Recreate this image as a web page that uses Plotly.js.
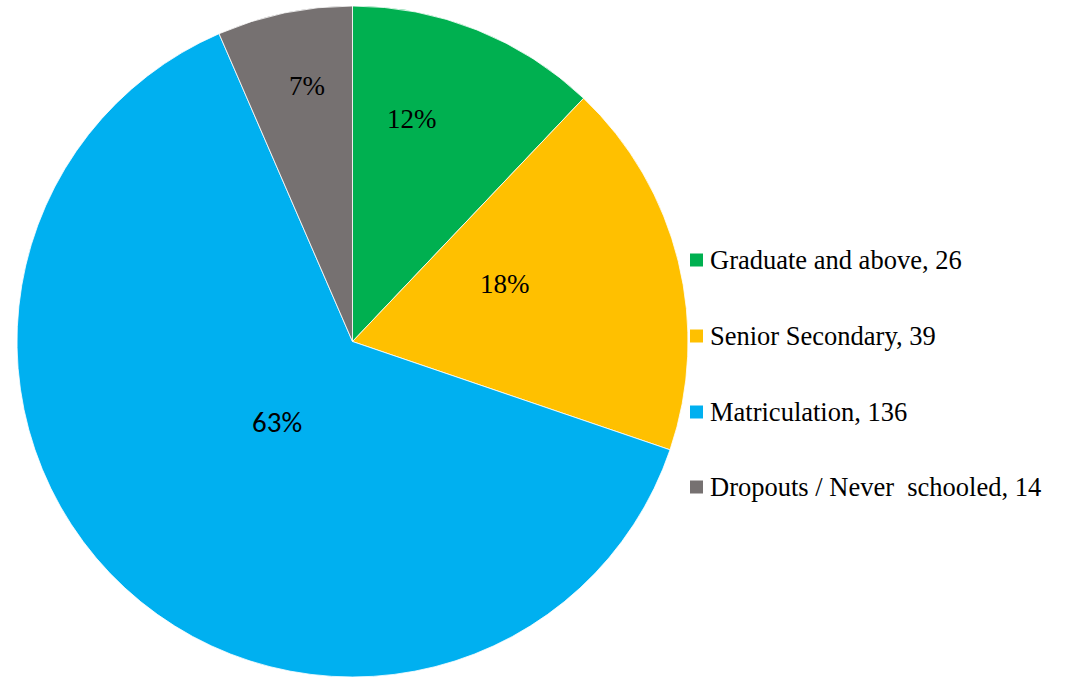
<!DOCTYPE html>
<html>
<head>
<meta charset="utf-8">
<script src="https://cdn.plot.ly/plotly-3.0.1.min.js"></script>
<style>html,body{margin:0;padding:0;background:#fff;}#chart{width:1073px;height:678px;}</style>
</head>
<body>
<div id="chart"></div>
<script>
const categories = ["Graduate and above", "Senior Secondary", "Matriculation", "Dropouts / Never  schooled"];
const values = [26, 39, 136, 14];
const colors = ["#00B050", "#FFC000", "#00B0F0", "#767171"];
// label placement (pixel coords in 1073x678 page) and fonts for percent labels
const labelPos = [[412, 119], [505, 284], [277, 422], [307, 86]];
const SERIF = "'Liberation Serif', 'Times New Roman', 'DejaVu Serif', serif";
const SANS = "Carlito, Lato, 'Liberation Sans', sans-serif";
const labelFonts = [SERIF, SERIF, SANS, SERIF];
const labelSizes = [27, 27, 29, 27];
const legendRowsY = [260, 336, 412, 487];

const W = 1073, H = 678;
const cx = 352.5, cy = 341.5, R = 335.5;
const total = values.reduce((a, b) => a + b, 0);
const px = x => x / W;
const py = y => 1 - y / H;

const trace = {
  type: "pie",
  values: values,
  labels: categories,
  marker: { colors: colors, line: { color: "#ffffff", width: 0.8 } },
  sort: false,
  direction: "clockwise",
  rotation: 0,
  textinfo: "none",
  hoverinfo: "label+value+percent",
  domain: { x: [px(cx - R), px(cx + R)], y: [py(cy + R), py(cy - R)] },
  showlegend: false
};

const annotations = [];
const shapes = [];
values.forEach((v, i) => {
  annotations.push({
    x: px(labelPos[i][0]), y: py(labelPos[i][1]), xref: "paper", yref: "paper",
    text: Math.round(v / total * 100) + "%", showarrow: false,
    xanchor: "center", yanchor: "middle",
    font: { family: labelFonts[i], size: labelSizes[i], color: "#000" }
  });
  annotations.push({
    x: px(708), y: py(legendRowsY[i]), xref: "paper", yref: "paper",
    text: categories[i].replace(/  /g, " &nbsp;") + ", " + v, showarrow: false,
    xanchor: "left", yanchor: "middle",
    font: { family: SERIF, size: 26.5, color: "#000" }
  });
  shapes.push({
    type: "rect", xref: "paper", yref: "paper",
    x0: px(690), x1: px(703), y0: py(legendRowsY[i] - 6.5), y1: py(legendRowsY[i] + 6.5),
    fillcolor: colors[i], line: { width: 0 }
  });
});

const layout = {
  width: W, height: H,
  margin: { l: 0, r: 0, t: 0, b: 0 },
  paper_bgcolor: "#ffffff",
  plot_bgcolor: "#ffffff",
  showlegend: false,
  annotations: annotations,
  shapes: shapes
};

Plotly.newPlot("chart", [trace], layout, { displayModeBar: false, staticPlot: true });
</script>
</body>
</html>
